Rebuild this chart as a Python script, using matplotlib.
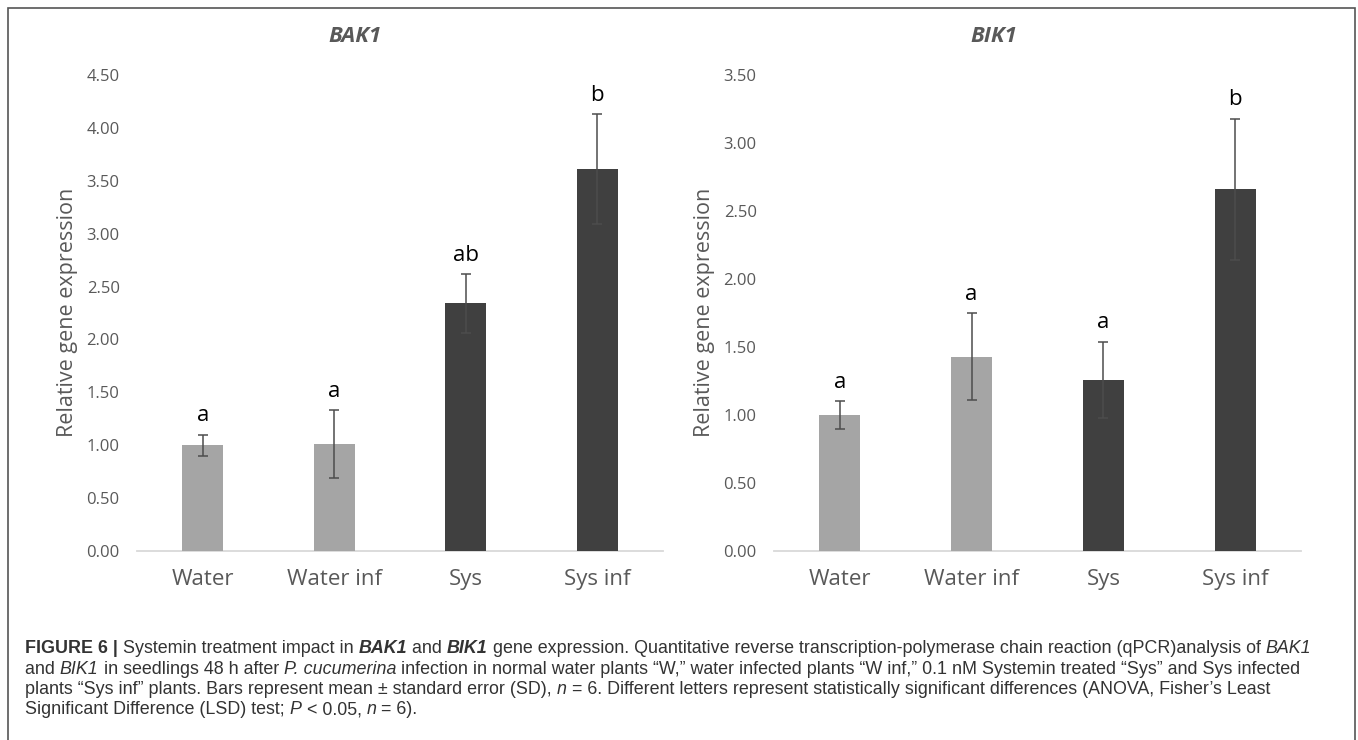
import matplotlib
matplotlib.use('Agg')
import matplotlib.pyplot as plt
from matplotlib.patches import Rectangle

W, H = 1358, 740

groups = ['Water', 'Water inf', 'Sys', 'Sys inf']
bak1_mean = [1.00, 1.01, 2.34, 3.61]
bak1_err = [0.10, 0.32, 0.28, 0.52]
bak1_letters = ['a', 'a', 'ab', 'b']
bik1_mean = [1.00, 1.43, 1.26, 2.66]
bik1_err = [0.10, 0.32, 0.28, 0.52]
bik1_letters = ['a', 'a', 'a', 'b']
bar_colors = ['#a5a5a5', '#a5a5a5', '#404040', '#404040']

gray = '#595959'
chart_font = 'Open Sans'
cap_font = 'Liberation Sans'

fig = plt.figure(figsize=(W / 100, H / 100), dpi=100)
fig.patch.set_facecolor('white')


def px_axes(left, right, top, bottom):
    return fig.add_axes([left / W, 1 - bottom / H, (right - left) / W, (bottom - top) / H])


def bar_panel(ax, means, errs, letters, ymax, title, title_x, ylabel_x):
    x = range(len(groups))
    ax.bar(x, means, width=0.31, color=bar_colors, zorder=2)
    ax.errorbar(x, means, yerr=errs, fmt='none', ecolor='#4d4d4d',
                elinewidth=1.1, capsize=3.5, capthick=1.1, zorder=3)
    for i in x:
        ax.annotate(letters[i], (i, means[i] + errs[i]), xytext=(0, 9.5),
                    textcoords='offset points', ha='center', va='baseline',
                    fontsize=16, family=chart_font, color='black')
    ax.set_xlim(-0.5, 3.5)
    ax.set_ylim(0, ymax)
    ax.set_yticks([i * 0.5 for i in range(int(ymax / 0.5) + 1)])
    ax.set_yticklabels(['%.2f' % (i * 0.5) for i in range(int(ymax / 0.5) + 1)])
    ax.set_xticks(list(x))
    ax.set_xticklabels(groups)
    ax.tick_params(axis='y', length=0, pad=12.5, labelsize=12, labelcolor=gray)
    ax.tick_params(axis='x', length=0, pad=13, labelsize=16, labelcolor=gray)
    for lab in ax.get_xticklabels() + ax.get_yticklabels():
        lab.set_family(chart_font)
    for s in ['top', 'right', 'left']:
        ax.spines[s].set_visible(False)
    ax.spines['bottom'].set_color('#d9d9d9')
    ax.spines['bottom'].set_linewidth(1.3)
    ax.spines['bottom'].set_zorder(1)
    fig.text(title_x / W, 1 - 37 / H, title, ha='center', va='center',
             fontsize=16, fontweight='bold', fontstyle='italic',
             family=chart_font, color=gray)
    fig.text(ylabel_x / W, 1 - 312 / H, 'Relative gene expression', rotation=90,
             ha='center', va='center', fontsize=15.5, family=chart_font, color=gray)


ax1 = px_axes(137, 663, 75, 551)
bar_panel(ax1, bak1_mean, bak1_err, bak1_letters, 4.5, 'BAK1', 355, 67)
ax2 = px_axes(774, 1301, 75, 551)
bar_panel(ax2, bik1_mean, bik1_err, bik1_letters, 3.5, 'BIK1', 994, 704)

# outer frame
fig.patches.append(Rectangle((8 / W, -0.01), (1355 - 8) / W, 1.01 - 8 / H,
                             transform=fig.transFigure, fill=False,
                             edgecolor='#555555', linewidth=1.2))

# caption
styles = {
    'n': dict(),
    'b': dict(fontweight='bold'),
    'i': dict(fontstyle='italic'),
    'bi': dict(fontweight='bold', fontstyle='italic'),
}
cap_size = 12.9
cap_color = '#333333'
caption = [
    [('FIGURE 6 | ', 'b'), ('Systemin treatment impact in ', 'n'), ('BAK1', 'bi'),
     (' and ', 'n'), ('BIK1', 'bi'),
     (' gene expression. Quantitative reverse transcription-polymerase chain reaction (qPCR)analysis of ', 'n'),
     ('BAK1', 'i')],
    [('and ', 'n'), ('BIK1', 'i'), (' in seedlings 48 h after ', 'n'), ('P. cucumerina', 'i'),
     (' infection in normal water plants \u201cW,\u201d water infected plants \u201cW inf,\u201d 0.1 nM Systemin treated \u201cSys\u201d and Sys infected', 'n')],
    [('plants \u201cSys inf\u201d plants. Bars represent mean \u00b1 standard error (SD), ', 'n'), ('n', 'i'),
     (' = 6. Different letters represent statistically significant differences (ANOVA, Fisher\u2019s Least', 'n')],
    [('Significant Difference (LSD) test; ', 'n'), ('P', 'i'), (' < 0.05, ', 'n'), ('n', 'i'), (' = 6).', 'n')],
]
line_y = [653, 673.5, 694, 714.5]

renderer = fig.canvas.get_renderer()


def text_width(s, kw):
    t1 = fig.text(0, 0, '|' + s + '|', fontsize=cap_size, family=cap_font, **kw)
    t2 = fig.text(0, 0, '||', fontsize=cap_size, family=cap_font, **kw)
    w = t1.get_window_extent(renderer).width - t2.get_window_extent(renderer).width
    t1.remove()
    t2.remove()
    return w


for parts, y in zip(caption, line_y):
    x = 25
    for s, st in parts:
        fig.text(x / W, 1 - y / H, s, ha='left', va='baseline', fontsize=cap_size,
                 family=cap_font, color=cap_color, **styles[st])
        x += text_width(s, styles[st])

fig.savefig('out.png', dpi=100, facecolor='white')
